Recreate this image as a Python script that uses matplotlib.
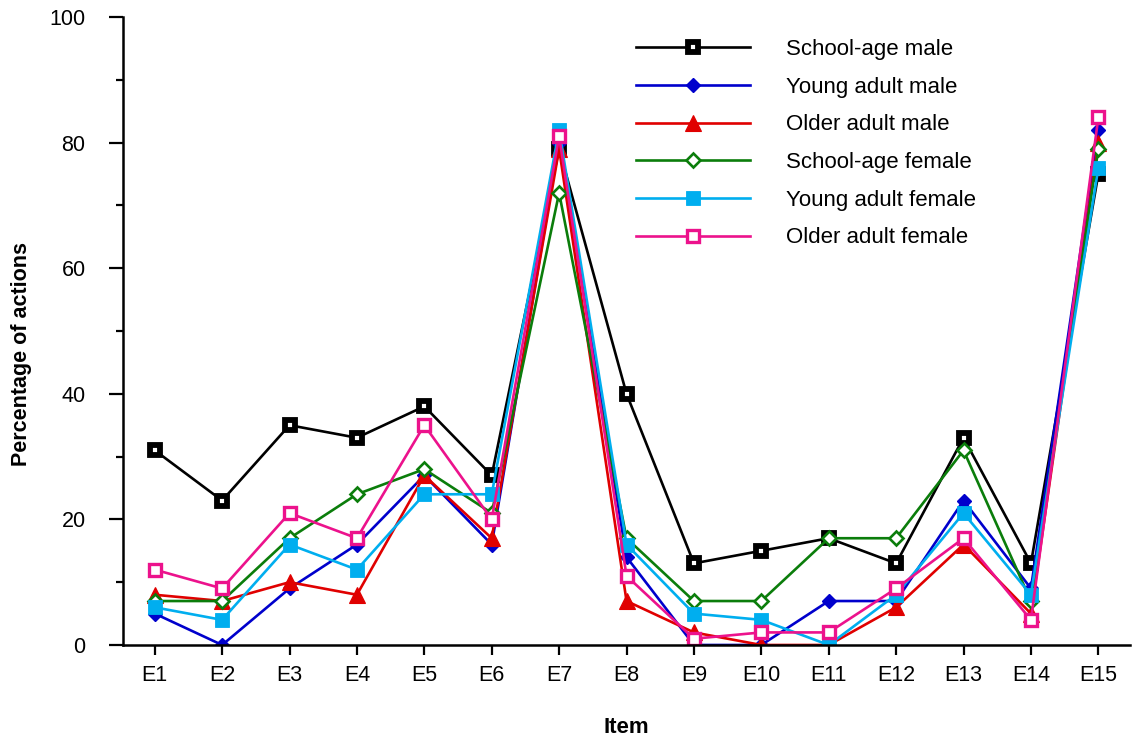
import matplotlib
matplotlib.use("Agg")
import matplotlib.pyplot as plt
from matplotlib.ticker import MultipleLocator

plt.rcParams["font.family"] = ["Liberation Sans", "DejaVu Sans"]

items = ["E1", "E2", "E3", "E4", "E5", "E6", "E7", "E8",
         "E9", "E10", "E11", "E12", "E13", "E14", "E15"]

school_age_male = [31, 23, 35, 33, 38, 27, 79, 40, 13, 15, 17, 13, 33, 13, 75]
young_adult_male = [5, 0, 9, 16, 27, 16, 80, 14, 0, 0, 7, 7, 23, 9, 82]
older_adult_male = [8, 7, 10, 8, 27, 17, 79, 7, 2, 0, 0, 6, 16, 5, 80]
school_age_female = [7, 7, 17, 24, 28, 21, 72, 17, 7, 7, 17, 17, 31, 7, 79]
young_adult_female = [6, 4, 16, 12, 24, 24, 82, 16, 5, 4, 0, 8, 21, 8, 76]
older_adult_female = [12, 9, 21, 17, 35, 20, 81, 11, 1, 2, 2, 9, 17, 4, 84]

LW = 1.9
series = [
    ("School-age male", school_age_male,
     dict(color="black", marker="s", ms=6.6, mew=4.2, mfc="white", mec="black", lw=LW)),
    ("Young adult male", young_adult_male,
     dict(color="#0000CC", marker="D", ms=7.4, mew=1.0, mfc="#0000CC", mec="#0000CC", lw=LW)),
    ("Older adult male", older_adult_male,
     dict(color="#E00000", marker="^", ms=11, mew=0.8, mfc="#E00000", mec="#E00000", lw=LW)),
    ("School-age female", school_age_female,
     dict(color="#0B7D0B", marker="D", ms=6.8, mew=1.9, mfc="white", mec="#0B7D0B", lw=LW)),
    ("Young adult female", young_adult_female,
     dict(color="#00AEEF", marker="s", ms=10.5, mew=0.6, mfc="#00AEEF", mec="#00AEEF", lw=LW)),
    ("Older adult female", older_adult_female,
     dict(color="#EC128C", marker="s", ms=8.6, mew=2.4, mfc="white", mec="#EC128C", lw=LW)),
]

fig = plt.figure(figsize=(11.35, 7.40), dpi=100)
ax = fig.add_axes([0.1084, 0.1284, 0.8872, 0.8486])

x = list(range(1, len(items) + 1))
for label, values, style in series:
    ax.plot(x, values, label=label, **style)

ax.set_xlim(0.53, 15.47)
ax.set_ylim(0, 100)
ax.set_xticks(x)
ax.set_xticklabels(items)
ax.yaxis.set_major_locator(MultipleLocator(20))
ax.yaxis.set_minor_locator(MultipleLocator(10))

for side in ("top", "right"):
    ax.spines[side].set_visible(False)
for side in ("left", "bottom"):
    ax.spines[side].set_linewidth(1.8)

ax.tick_params(axis="y", which="major", direction="out", length=10, width=1.6,
               labelsize=15.5, pad=17)
ax.tick_params(axis="y", which="minor", direction="out", length=5, width=1.6)
ax.tick_params(axis="x", which="major", direction="out", length=7.5, width=1.6,
               labelsize=15.5, pad=7)

ax.set_xlabel("Item", fontsize=16, fontweight="bold", labelpad=22)
ax.set_ylabel("Percentage of actions", fontsize=15.5, fontweight="bold")
ax.yaxis.set_label_coords(-0.0905, 0.463)

leg = ax.legend(loc="upper left", bbox_to_anchor=(636 / 1135, 1 - 39 / 740),
                bbox_transform=fig.transFigure, frameon=False, fontsize=16,
                handlelength=5.13, handletextpad=1.62, labelspacing=0.75,
                borderpad=0, borderaxespad=0, numpoints=1)

fig.savefig("out.png", dpi=100)
